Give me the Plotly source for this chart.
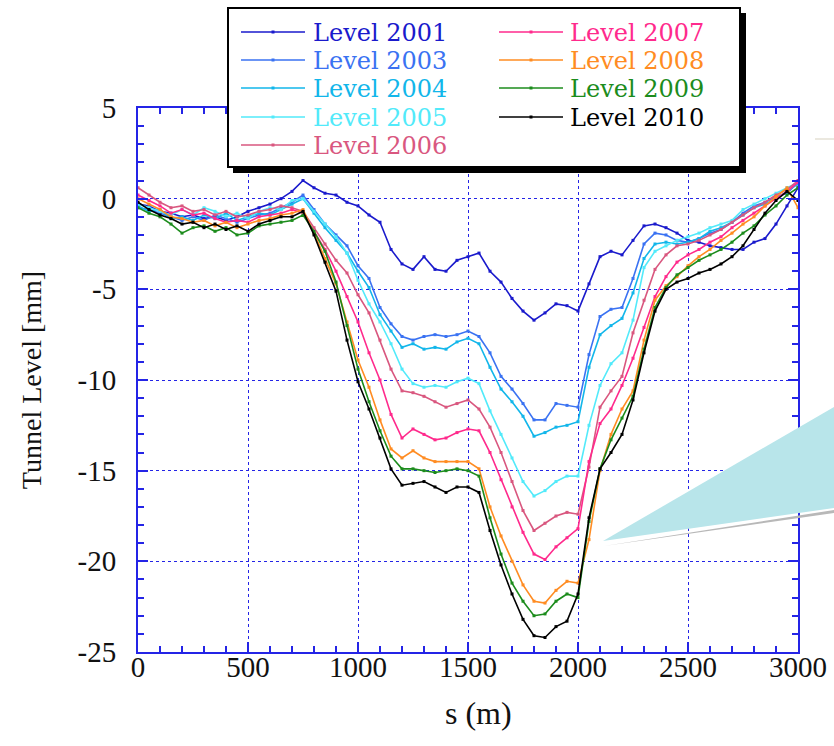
import plotly.graph_objects as go

# ---------------- data ----------------
s_m = [0, 50, 100, 150, 200, 250, 300, 350, 400, 450, 500, 550, 600, 650, 700, 750,
       800, 850, 900, 950, 1000, 1050, 1100, 1150, 1200, 1250, 1300, 1350, 1400, 1450,
       1500, 1550, 1600, 1650, 1700, 1750, 1800, 1850, 1900, 1950, 2000, 2050, 2100,
       2150, 2200, 2250, 2300, 2350, 2400, 2450, 2500, 2550, 2600, 2650, 2700, 2750,
       2800, 2850, 2900, 2950, 3000]

level_2001 = [-0.3, -0.4, -0.7, -0.8, -1.0, -0.9, -1.1, -1.0, -1.2, -1.0, -0.7, -0.5, -0.3, 0.0, 0.4, 1.0,
              0.6, 0.3, 0.2, -0.2, -0.4, -0.9, -1.3, -2.8, -3.6, -3.9, -3.2, -3.9, -4.0, -3.4,
              -3.2, -3.0, -4.0, -4.6, -5.5, -6.2, -6.7, -6.3, -5.8, -5.9, -6.2, -4.7, -3.2,
              -2.9, -3.1, -2.3, -1.5, -1.4, -1.6, -1.9, -2.3, -2.4, -2.6, -2.7, -2.8, -2.8,
              -2.4, -2.2, -1.4, -0.4, 0.6]
level_2003 = [-0.5, -0.6, -0.8, -1.0, -1.2, -1.0, -1.2, -0.9, -1.1, -1.3, -1.1, -0.9, -0.8, -0.5, -0.2, 0.2,
              -0.6, -1.4, -2.0, -2.6, -3.7, -4.4, -6.0, -6.9, -7.6, -7.8, -7.6, -7.5, -7.6, -7.5,
              -7.3, -7.6, -8.5, -9.8, -10.5, -11.3, -12.2, -12.2, -11.3, -11.4, -11.5, -8.6, -6.5,
              -6.1, -6.0, -4.4, -2.5, -1.9, -2.0, -2.3, -2.4, -2.2, -1.9, -1.7, -1.3, -0.8,
              -0.4, -0.2, 0.1, 0.3, 0.9]
level_2004 = [-0.4, -0.7, -0.6, -1.1, -1.0, -1.2, -0.9, -1.1, -0.8, -1.2, -1.0, -0.8, -0.9, -0.6, -0.3, 0.0,
              -0.8, -1.6, -2.3, -3.0, -4.0, -4.9, -6.4, -7.3, -8.2, -8.0, -8.3, -8.2, -8.3, -7.9,
              -7.7, -8.0, -9.3, -10.5, -11.2, -12.0, -13.1, -12.9, -12.6, -12.5, -12.3, -9.3, -7.5,
              -7.0, -6.6, -5.2, -3.3, -2.5, -2.4, -2.5, -2.4, -2.2, -1.8, -1.6, -1.3, -0.9,
              -0.5, -0.3, 0.0, 0.4, 0.8]
level_2005 = [-0.3, -0.5, -0.7, -0.9, -0.6, -0.9, -0.5, -0.7, -1.0, -0.8, -1.1, -0.7, -0.5, -0.6, -0.1, 0.0,
              -0.7, -1.4, -2.1, -3.0, -4.5, -5.8, -6.8, -8.0, -9.4, -10.2, -10.4, -10.3, -10.4, -10.1,
              -9.9, -10.2, -11.7, -13.0, -14.3, -15.6, -16.4, -16.1, -15.6, -15.3, -15.3, -12.5, -10.3,
              -9.1, -8.5, -6.7, -3.8, -2.9, -2.6, -2.3, -2.1, -1.9, -1.6, -1.4, -1.2, -0.6,
              -0.3, 0.0, 0.3, 0.6, 0.9]
level_2006 = [0.6, 0.2, -0.2, -0.5, -0.4, -0.7, -0.6, -0.9, -0.7, -1.0, -0.9, -0.7, -0.6, -0.4, -0.5, -0.7,
              -1.6, -2.5, -3.4, -4.1, -5.3, -6.3, -7.8, -9.4, -10.6, -10.7, -10.9, -11.2, -11.5, -11.3,
              -11.1, -11.6, -12.6, -14.0, -15.6, -17.2, -18.3, -17.9, -17.5, -17.3, -17.4, -14.8, -11.5,
              -10.6, -9.8, -7.4, -5.6, -3.9, -3.1, -2.6, -2.5, -2.3, -2.0, -1.7, -1.3, -0.9,
              -0.5, -0.2, 0.2, 0.5, 1.0]
level_2007 = [0.2, -0.1, -0.4, -0.8, -0.6, -0.9, -0.8, -1.1, -1.3, -1.2, -1.3, -1.0, -0.9, -0.8, -0.6, -0.8,
              -1.8, -2.8, -4.0, -5.4, -6.8, -8.5, -10.0, -11.9, -13.2, -12.7, -13.0, -13.3, -13.2, -12.9,
              -12.7, -12.8, -14.0, -15.5, -17.0, -18.4, -19.6, -19.9, -19.2, -18.7, -18.2, -14.5, -12.4,
              -11.6, -10.3, -8.8, -7.1, -5.4, -4.3, -3.5, -3.1, -2.8, -2.4, -2.1, -1.6, -1.2,
              -0.8, -0.4, 0.0, 0.4, 0.9]
level_2008 = [0.0, -0.3, -0.6, -1.0, -1.1, -1.3, -1.2, -1.5, -1.3, -1.6, -1.4, -1.2, -1.1, -0.9, -0.8, -0.6,
              -1.9, -3.3, -4.7, -6.8, -8.9, -10.4, -12.2, -13.8, -14.3, -13.9, -14.3, -14.5, -14.5, -14.5,
              -14.5, -14.9, -17.0, -18.6, -20.0, -21.3, -22.2, -22.3, -21.6, -21.1, -21.2, -18.8, -15.0,
              -13.0, -11.6, -10.6, -7.8, -5.6, -4.8, -4.3, -3.7, -3.2, -2.8, -2.3, -1.9, -1.4,
              -1.0, -0.4, 0.1, 0.6, -0.5]
level_2009 = [-0.5, -0.8, -1.0, -1.4, -1.9, -1.6, -1.5, -1.8, -1.6, -2.0, -1.9, -1.5, -1.4, -1.3, -1.2, -0.9,
              -1.8, -2.9, -4.6, -7.0, -9.4, -11.2, -12.8, -14.2, -14.9, -14.9, -15.0, -15.1, -15.0, -14.9,
              -15.0, -15.3, -17.6, -19.6, -21.2, -22.2, -23.0, -22.9, -22.2, -21.8, -22.0, -17.8, -14.9,
              -13.3, -12.1, -10.9, -8.3, -6.0, -4.9, -4.2, -3.8, -3.4, -3.1, -2.8, -2.4, -1.9,
              -1.5, -0.9, -0.4, 0.2, 0.6]
level_2010 = [-0.2, -0.6, -0.9, -1.1, -1.4, -1.3, -1.6, -1.4, -1.7, -1.5, -1.8, -1.4, -1.2, -1.0, -1.0, -0.7,
              -2.0, -3.5, -5.1, -7.8, -10.1, -11.6, -13.2, -14.9, -15.8, -15.7, -15.6, -15.9, -16.2, -15.9,
              -15.9, -16.2, -18.3, -20.2, -21.8, -23.2, -24.1, -24.2, -23.6, -23.3, -21.8, -17.6, -14.9,
              -14.0, -13.0, -11.1, -8.5, -6.2, -5.0, -4.6, -4.4, -4.1, -3.9, -3.6, -3.2, -2.6,
              -1.7, -0.8, -0.1, 0.4, -0.1]

series_names = ["Level 2001", "Level 2003", "Level 2004", "Level 2005", "Level 2006",
                "Level 2007", "Level 2008", "Level 2009", "Level 2010"]
series_values = [level_2001, level_2003, level_2004, level_2005, level_2006,
                 level_2007, level_2008, level_2009, level_2010]

x_tick_vals = [0, 500, 1000, 1500, 2000, 2500, 3000]
y_tick_vals = [5, 0, -5, -10, -15, -20, -25]
y_tick_text = ["5", "0", "-5", "-10", "-15", "-20", "-25"]

# ---------------- style ----------------
colors = ["#1a1acc", "#3a72f2", "#12b6ea", "#52eafa", "#d9577f",
          "#ff2a8c", "#ff8c22", "#1c8c1c", "#000000"]
AXIS_BLUE = "#2424e6"
SERIF = "Liberation Serif"

W, H = 834, 746
L, R, T, B = 138, 798, 108, 652  # plot area in pixels


def px(x):
    return (x - L) / (R - L)


def py(y):
    return (B - y) / (B - T)


fig = go.Figure()
for name, vals, col in zip(series_names, series_values, colors):
    fig.add_trace(go.Scatter(
        x=s_m, y=vals, name=name, mode="lines+markers",
        line=dict(color=col, width=1.6),
        marker=dict(color=col, size=3, symbol="square"),
        showlegend=False,
    ))

shapes = []
annotations = []

# callout wedge
shapes.append(dict(type="path", xref="paper", yref="paper", layer="above",
                   path=f"M {px(604)} {py(546)} L {px(834)} {py(513)} L {px(834)} {py(510)} Z",
                   fillcolor="#b8b8b8", line=dict(width=0)))
shapes.append(dict(type="path", xref="paper", yref="paper", layer="above",
                   path=f"M {px(603)} {py(541)} L {px(834)} {py(407)} L {px(834)} {py(508)} Z",
                   fillcolor="#b8e5ea", line=dict(width=0)))
shapes.append(dict(type="line", xref="paper", yref="paper", layer="above",
                   x0=px(815), x1=px(834), y0=py(139), y1=py(139),
                   line=dict(color="#e4e0d4", width=1.5)))

# legend box with shadow
shapes.append(dict(type="rect", xref="paper", yref="paper", layer="above",
                   x0=px(233), x1=px(746), y0=py(13), y1=py(173),
                   fillcolor="#000000", line=dict(width=0)))
shapes.append(dict(type="rect", xref="paper", yref="paper", layer="above",
                   x0=px(228), x1=px(740), y0=py(8), y1=py(167),
                   fillcolor="#ffffff", line=dict(color="#000000", width=2)))

col_line_x = [(241, 305), (499, 563)]
col_text_x = [311, 568]
row_y = [32, 60, 88, 117, 145]
for i, (name, col) in enumerate(zip(series_names, colors)):
    c = 0 if i < 5 else 1
    r = i if i < 5 else i - 5
    x0, x1 = col_line_x[c]
    yy = row_y[r]
    shapes.append(dict(type="line", xref="paper", yref="paper", layer="above",
                       x0=px(x0), x1=px(x1), y0=py(yy), y1=py(yy),
                       line=dict(color=col, width=1.5)))
    xm = (x0 + x1) / 2
    shapes.append(dict(type="rect", xref="paper", yref="paper", layer="above",
                       x0=px(xm - 1.5), x1=px(xm + 1.5), y0=py(yy - 1.5), y1=py(yy + 1.5),
                       fillcolor=col, line=dict(width=0)))
    annotations.append(dict(xref="paper", yref="paper", x=px(col_text_x[c]), y=py(yy + 1),
                            text=name, showarrow=False, xanchor="left", yanchor="middle",
                            font=dict(family="DejaVu Serif", size=24, color=col)))

# x-axis title
annotations.append(dict(xref="paper", yref="paper", x=px(478), y=py(713),
                        text="s (m)", showarrow=False, xanchor="center", yanchor="middle",
                        font=dict(family=SERIF, size=32, color="#111111")))

axis_common = dict(
    showline=True, linecolor=AXIS_BLUE, linewidth=2, mirror="allticks",
    ticks="inside", ticklen=10, tickcolor=AXIS_BLUE, tickwidth=2,
    showgrid=True, gridcolor=AXIS_BLUE, griddash="dot", gridwidth=1,
    zeroline=False, automargin=False,
    tickfont=dict(family=SERIF, size=29, color="#111111"),
)

fig.update_layout(
    width=W, height=H,
    margin=dict(l=L, r=W - R, t=T, b=H - B),
    paper_bgcolor="white", plot_bgcolor="white",
    showlegend=False,
    xaxis=dict(range=[0, 3000], tickvals=x_tick_vals,
               minor=dict(dtick=100, ticks="inside", ticklen=6, tickcolor=AXIS_BLUE,
                          tickwidth=1.5, showgrid=False),
               ticklabelstandoff=-12,
               **axis_common),
    yaxis=dict(range=[-25, 5], tickvals=y_tick_vals, ticktext=y_tick_text,
               minor=dict(dtick=1, ticks="inside", ticklen=6, tickcolor=AXIS_BLUE,
                          tickwidth=1.5, showgrid=False),
               title=dict(text="Tunnel Level [mm]", font=dict(family=SERIF, size=28, color="#111111"),
                          standoff=28),
               ticklabelstandoff=14,
               **axis_common),
    shapes=shapes,
    annotations=annotations,
)

fig.write_html("out.html")
